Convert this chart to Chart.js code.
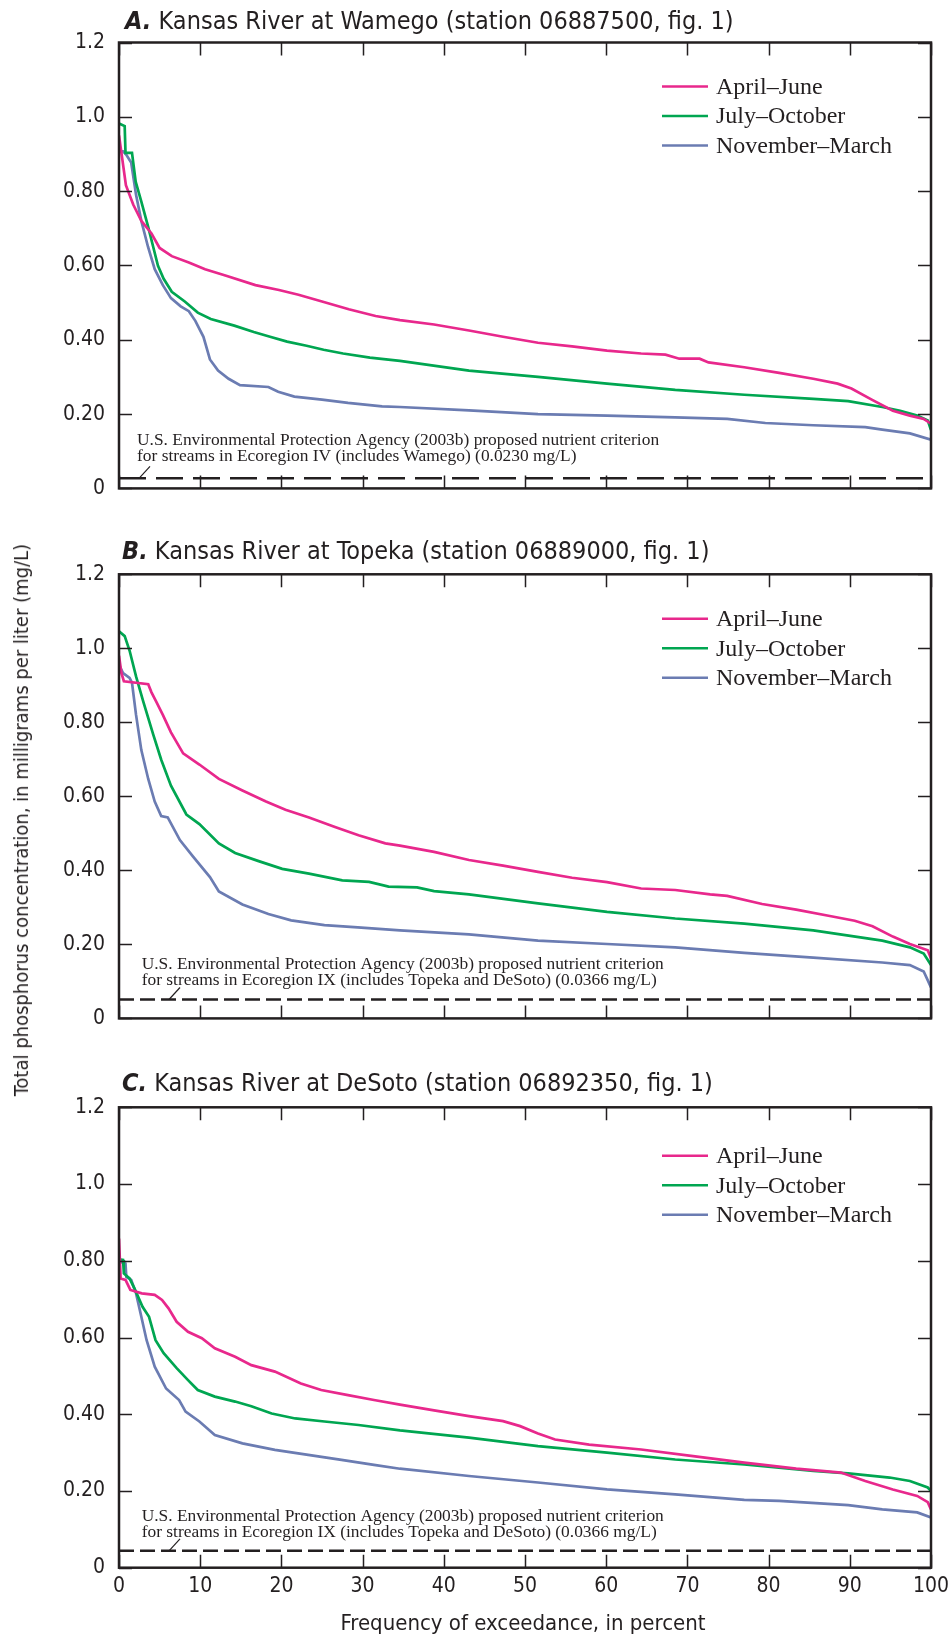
<!DOCTYPE html>
<html>
<head>
<meta charset="utf-8">
<script src="https://cdn.jsdelivr.net/npm/chart.js@4"></script>
<style>
    body { margin: 0; background: #fff; }
    #page { position: relative; width: 951px; height: 1639px; overflow: hidden; }
    canvas { position: absolute; left: 0; }
    .cond { font-family: "Liberation Sans Narrow", "DejaVu Sans Condensed", "Arial Narrow", sans-serif; font-stretch: condensed; color: #231f20; white-space: nowrap; position: absolute; }
    .ttl { font-size: 25px; line-height: 30px; }
    .ttl b { font-style: italic; }
    #ytitle { left: 21px; top: 820px; font-size: 20px; transform: translate(-50%, -50%) rotate(-90deg); }
    #xtitle { left: 523px; top: 1622px; font-size: 22px; transform: translate(-50%, -50%); }
</style>
</head>
<body>
<div id="page">
    <canvas id="chartA" width="951" height="515" style="top:0px"></canvas>
    <canvas id="chartB" width="951" height="520" style="top:525px"></canvas>
    <canvas id="chartC" width="951" height="579" style="top:1060px"></canvas>
    <div class="cond ttl" style="left:125px;top:6px"><b>A.</b> Kansas River at Wamego (station 06887500, fig. 1)</div>
    <div class="cond ttl" style="left:122px;top:536px"><b>B.</b> Kansas River at Topeka (station 06889000, fig. 1)</div>
    <div class="cond ttl" style="left:122px;top:1068px"><b>C.</b> Kansas River at DeSoto (station 06892350, fig. 1)</div>
    <div id="ytitle" class="cond">Total phosphorus concentration, in milligrams per liter (mg/L)</div>
    <div id="xtitle" class="cond">Frequency of exceedance, in percent</div>
</div>
<script>
// season labels and colours
const seasons = ['April–June', 'July–October', 'November–March'];
const seasonColors = ['#e8288c', '#00a651', '#6b7cb2'];

const yTickLabels = ['0', '0.20', '0.40', '0.60', '0.80', '1.0', '1.2'];
const xTickLabels = ['0', '10', '20', '30', '40', '50', '60', '70', '80', '90', '100'];

// A. Wamego
const wamegoAprJunX = [0, 0.3, 0.85, 1.75, 2.75, 4.0, 5.0, 6.5, 8.6, 10.6, 13.1, 16.8, 19.7, 22.1, 25, 28.3, 31.6, 34.6, 38.8, 43.1, 47.3, 51.6, 55.8, 60.1, 64.3, 67.3, 69.0, 71.5, 72.6, 77.0, 81.3, 85.5, 88.5, 90.2, 92.7, 95.3, 97.4, 99.1, 100];
const wamegoAprJunY = [0.950, 0.903, 0.816, 0.764, 0.720, 0.686, 0.647, 0.625, 0.608, 0.590, 0.573, 0.547, 0.534, 0.521, 0.503, 0.482, 0.464, 0.453, 0.441, 0.425, 0.408, 0.392, 0.382, 0.371, 0.363, 0.360, 0.349, 0.349, 0.339, 0.326, 0.311, 0.295, 0.282, 0.269, 0.239, 0.209, 0.196, 0.187, 0.174];
const wamegoJulOctX = [0, 0.7, 0.8, 1.6, 2.06, 2.75, 3.6, 4.2, 4.8, 5.5, 6.5, 8.1, 9.7, 11.3, 14.2, 16.6, 18.6, 20.7, 23.1, 25.2, 27.6, 30.9, 34.6, 43.1, 51.6, 60.1, 68.5, 77.0, 85.5, 89.8, 94.0, 96.2, 98.3, 99.6, 100];
const wamegoJulOctY = [0.982, 0.975, 0.903, 0.903, 0.825, 0.772, 0.703, 0.651, 0.599, 0.564, 0.529, 0.503, 0.473, 0.456, 0.438, 0.421, 0.408, 0.395, 0.384, 0.373, 0.363, 0.352, 0.343, 0.317, 0.300, 0.282, 0.265, 0.252, 0.241, 0.235, 0.219, 0.209, 0.196, 0.183, 0.157];
const wamegoNovMarX = [0, 0.5, 0.9, 1.5, 2.1, 2.75, 3.56, 4.4, 5.4, 6.4, 7.6, 8.6, 9.4, 10.4, 11.2, 12.2, 13.5, 14.9, 18.4, 19.6, 21.6, 25, 28.2, 32.4, 34.6, 43.1, 51.6, 60.1, 68.5, 74.9, 79.6, 85.5, 91.9, 94.0, 97.4, 100];
const wamegoNovMarY = [0.907, 0.907, 0.898, 0.877, 0.790, 0.720, 0.651, 0.590, 0.547, 0.512, 0.490, 0.477, 0.451, 0.408, 0.347, 0.317, 0.295, 0.278, 0.273, 0.260, 0.247, 0.239, 0.230, 0.221, 0.219, 0.210, 0.200, 0.196, 0.191, 0.187, 0.176, 0.170, 0.165, 0.158, 0.148, 0.131];

// B. Topeka
const topekaAprJunX = [0, 0.3, 0.6, 3.6, 4.0, 4.6, 5.4, 6.4, 7.9, 9.9, 12.3, 15.2, 18.1, 20.5, 23.4, 26.6, 29.5, 32.8, 34.6, 38.8, 43.1, 47.3, 51.6, 55.8, 60.1, 64.3, 68.5, 72.8, 74.9, 79.2, 83.4, 87.7, 90.6, 92.8, 95.3, 97.4, 99.6, 100];
const topekaAprJunY = [0.98, 0.933, 0.911, 0.903, 0.881, 0.855, 0.820, 0.773, 0.716, 0.686, 0.647, 0.616, 0.586, 0.564, 0.543, 0.517, 0.495, 0.473, 0.467, 0.450, 0.428, 0.413, 0.396, 0.380, 0.368, 0.351, 0.347, 0.335, 0.331, 0.309, 0.294, 0.276, 0.264, 0.249, 0.221, 0.201, 0.184, 0.162];
const topekaJulOctX = [0, 0.7, 1.3, 2.1, 3.0, 4.2, 5.2, 6.4, 8.3, 9.9, 12.3, 14.3, 17.2, 20.1, 23.4, 27.5, 30.8, 33.2, 36.7, 38.8, 43.1, 51.6, 60.1, 68.5, 77.0, 85.5, 94.0, 97.4, 99.1, 100];
const topekaJulOctY = [1.046, 1.033, 0.994, 0.924, 0.855, 0.768, 0.699, 0.629, 0.551, 0.525, 0.473, 0.447, 0.425, 0.404, 0.391, 0.373, 0.369, 0.356, 0.354, 0.344, 0.335, 0.311, 0.288, 0.270, 0.256, 0.238, 0.210, 0.192, 0.175, 0.144];
const topekaNovMarX = [0, 0.5, 1.3, 1.6, 2.1, 2.75, 3.6, 4.4, 5.2, 6.0, 7.5, 9.1, 11.2, 12.3, 15.2, 18.4, 21.2, 25.3, 29.4, 34.6, 43.1, 51.6, 60.1, 68.5, 77.0, 85.5, 94.0, 97.4, 99.1, 100];
const topekaNovMarY = [0.955, 0.933, 0.920, 0.907, 0.820, 0.725, 0.647, 0.586, 0.547, 0.543, 0.482, 0.438, 0.382, 0.343, 0.308, 0.282, 0.265, 0.252, 0.246, 0.238, 0.227, 0.210, 0.201, 0.192, 0.177, 0.164, 0.151, 0.144, 0.127, 0.084];

// C. DeSoto
const desotoAprJunX = [0, 0.2, 0.8, 1.4, 2.8, 4.4, 5.3, 6.1, 7.1, 8.5, 10.2, 11.8, 14.3, 16.3, 19.2, 22.4, 24.9, 28.2, 31.4, 34.6, 38.8, 43.1, 47.3, 49.4, 51.6, 53.7, 57.9, 64.3, 70.7, 77.0, 83.4, 88.9, 91.9, 95.3, 98.3, 99.6, 100];
const desotoAprJunY = [0.858, 0.754, 0.750, 0.724, 0.715, 0.711, 0.698, 0.676, 0.641, 0.615, 0.598, 0.572, 0.550, 0.528, 0.511, 0.480, 0.463, 0.450, 0.437, 0.425, 0.410, 0.395, 0.382, 0.369, 0.350, 0.334, 0.321, 0.308, 0.291, 0.274, 0.258, 0.248, 0.226, 0.204, 0.187, 0.171, 0.152];
const desotoJulOctX = [0, 0.5, 0.6, 1.3, 1.9, 2.9, 3.7, 4.5, 5.5, 7.1, 8.5, 9.7, 11.8, 14.3, 16.3, 18.8, 21.7, 25.3, 29.5, 34.6, 43.1, 51.6, 60.1, 68.5, 77.0, 85.5, 89.8, 94.9, 97.4, 99.6, 100];
const desotoJulOctY = [0.804, 0.802, 0.767, 0.754, 0.728, 0.680, 0.654, 0.593, 0.559, 0.520, 0.489, 0.463, 0.446, 0.433, 0.421, 0.402, 0.389, 0.381, 0.372, 0.358, 0.339, 0.317, 0.300, 0.282, 0.269, 0.252, 0.246, 0.235, 0.226, 0.209, 0.200];
const desotoNovMarX = [0, 0.8, 0.9, 1.5, 2.1, 2.75, 3.4, 4.4, 5.8, 7.4, 8.2, 9.9, 11.8, 15.2, 19.2, 23.3, 27.4, 31.4, 34.6, 43.1, 51.6, 60.1, 68.5, 77.0, 81.3, 89.8, 94.0, 98.3, 100];
const desotoNovMarY = [0.798, 0.793, 0.758, 0.750, 0.715, 0.654, 0.593, 0.524, 0.467, 0.437, 0.407, 0.381, 0.346, 0.324, 0.307, 0.294, 0.281, 0.268, 0.258, 0.239, 0.222, 0.204, 0.191, 0.177, 0.174, 0.163, 0.152, 0.144, 0.131];

// criterion lines (drawn where they sit in the figure)
const criterionLevel = [0.027, 0.051, 0.044];
const criterionNotes = [
    ['U.S. Environmental Protection Agency (2003b) proposed nutrient criterion',
     'for streams in Ecoregion IV (includes Wamego) (0.0230 mg/L)'],
    ['U.S. Environmental Protection Agency (2003b) proposed nutrient criterion',
     'for streams in Ecoregion IX (includes Topeka and DeSoto) (0.0366 mg/L)'],
    ['U.S. Environmental Protection Agency (2003b) proposed nutrient criterion',
     'for streams in Ecoregion IX (includes Topeka and DeSoto) (0.0366 mg/L)'],
];

const COND = '"Liberation Sans Narrow", "DejaVu Sans Condensed", "Arial Narrow", sans-serif';
const SERIF = '"Liberation Serif", "DejaVu Serif", serif';
const INK = '#231f20';

function zip(xs, ys) {
    return xs.map((x, i) => ({ x: x, y: ys[i] }));
}

// frame, inner ticks, x labels, legend and criterion note
const decorPlugin = {
    id: 'decor',
    afterDatasetsDraw(chart, args, opts) {
        const { ctx, chartArea: a, scales } = chart;
        const x = scales.x, y = scales.y;
        ctx.save();
        ctx.strokeStyle = INK;
        ctx.lineWidth = 1.5;
        ctx.beginPath();
        y.ticks.forEach(t => {
            const py = Math.round(y.getPixelForValue(t.value)) + 0.5;
            ctx.moveTo(a.left, py); ctx.lineTo(a.left + 13, py);
            ctx.moveTo(a.right - 13, py); ctx.lineTo(a.right, py);
        });
        x.ticks.forEach(t => {
            const px = Math.round(x.getPixelForValue(t.value)) + 0.5;
            ctx.moveTo(px, a.top); ctx.lineTo(px, a.top + 13);
            ctx.moveTo(px, a.bottom - 13); ctx.lineTo(px, a.bottom);
        });
        ctx.stroke();
        ctx.lineWidth = 2.5;
        ctx.strokeRect(a.left, a.top, a.right - a.left, a.bottom - a.top);

        ctx.fillStyle = INK;
        if (opts.showX) {
            ctx.font = '21px ' + COND;
            ctx.textAlign = 'center';
            ctx.textBaseline = 'middle';
            x.ticks.forEach((t, i) => {
                ctx.fillText(xTickLabels[i], x.getPixelForValue(t.value), a.bottom + 19);
            });
            ctx.textAlign = 'left';
        }

        // legend
        ctx.font = '24px ' + SERIF;
        ctx.textBaseline = 'middle';
        seasons.forEach((s, i) => {
            const ly = a.top + opts.legendTop + i * 29.5;
            ctx.strokeStyle = seasonColors[i];
            ctx.lineWidth = 2.5;
            ctx.beginPath();
            ctx.moveTo(a.left + 543, ly); ctx.lineTo(a.left + 589, ly);
            ctx.stroke();
            ctx.fillText(s, a.left + 597, ly + 1);
        });

        // criterion note and leader
        ctx.font = '17.4px ' + SERIF;
        ctx.textBaseline = 'alphabetic';
        ctx.fillText(opts.note[0], opts.noteX, a.bottom + opts.noteBase[0]);
        ctx.fillText(opts.note[1], opts.noteX, a.bottom + opts.noteBase[1]);
        const cy = y.getPixelForValue(opts.crit);
        ctx.strokeStyle = INK;
        ctx.lineWidth = 1.2;
        ctx.beginPath();
        ctx.moveTo(a.left + opts.leader, cy);
        ctx.lineTo(a.left + opts.leader + 11, cy - 12);
        ctx.stroke();
        ctx.restore();
    }
};

function makePanel(id, series, idx, cfg) {
    const datasets = series.map((s, i) => ({
        label: seasons[i],
        data: zip(s[0], s[1]),
        borderColor: seasonColors[i],
        borderWidth: 2.7,
        pointRadius: 0,
        tension: 0,
        fill: false,
    }));
    datasets.push({
        label: 'criterion',
        data: [{ x: 0, y: criterionLevel[idx] }, { x: 100, y: criterionLevel[idx] }],
        borderColor: INK,
        borderWidth: 2.5,
        borderDash: cfg.dash,
        pointRadius: 0,
    });

    new Chart(document.getElementById(id), {
        type: 'line',
        data: { datasets: datasets },
        options: {
            responsive: false,
            animation: false,
            devicePixelRatio: 1,
            layout: { padding: { left: 0, right: 20, top: cfg.padTop, bottom: cfg.padBottom } },
            plugins: {
                legend: { display: false },
                tooltip: { enabled: false },
                decor: {
                    showX: cfg.showX,
                    legendTop: cfg.legendTop,
                    note: criterionNotes[idx],
                    noteX: cfg.noteX,
                    noteBase: cfg.noteBase,
                    crit: criterionLevel[idx],
                    leader: cfg.leader,
                },
            },
            scales: {
                x: {
                    type: 'linear', min: 0, max: 100,
                    grid: { display: false, drawTicks: false },
                    border: { display: false },
                    ticks: { display: false, stepSize: 10, autoSkip: false },
                    afterFit: s => { s.height = 0; },
                },
                y: {
                    min: 0, max: 1.2,
                    grid: { display: false, drawTicks: false },
                    border: { display: false },
                    ticks: {
                        stepSize: 0.2, padding: 14, color: INK,
                        font: { family: COND, size: 21 },
                        callback: (v, i) => yTickLabels[i],
                    },
                    afterFit: s => { s.width = 119; },
                },
            },
        },
        plugins: [decorPlugin],
    });
}

makePanel('chartA', [[wamegoAprJunX, wamegoAprJunY], [wamegoJulOctX, wamegoJulOctY], [wamegoNovMarX, wamegoNovMarY]], 0,
    { padTop: 42.5, padBottom: 11.7, showX: false, legendTop: 44, noteX: 137, noteBase: [-43.3, -27.3], leader: 20, dash: [27, 10] });
makePanel('chartB', [[topekaAprJunX, topekaAprJunY], [topekaJulOctX, topekaJulOctY], [topekaNovMarX, topekaNovMarY]], 1,
    { padTop: 49.3, padBottom: 10.3, showX: false, legendTop: 44.5, noteX: 141.7, noteBase: [-49.7, -33.7], leader: 50, dash: [15, 6] });
makePanel('chartC', [[desotoAprJunX, desotoAprJunY], [desotoJulOctX, desotoJulOctY], [desotoNovMarX, desotoNovMarY]], 2,
    { padTop: 47.3, padBottom: 71.3, showX: true, legendTop: 48.5, noteX: 141.7, noteBase: [-46.7, -30.7], leader: 50, dash: [15, 6] });
</script>
</body>
</html>
